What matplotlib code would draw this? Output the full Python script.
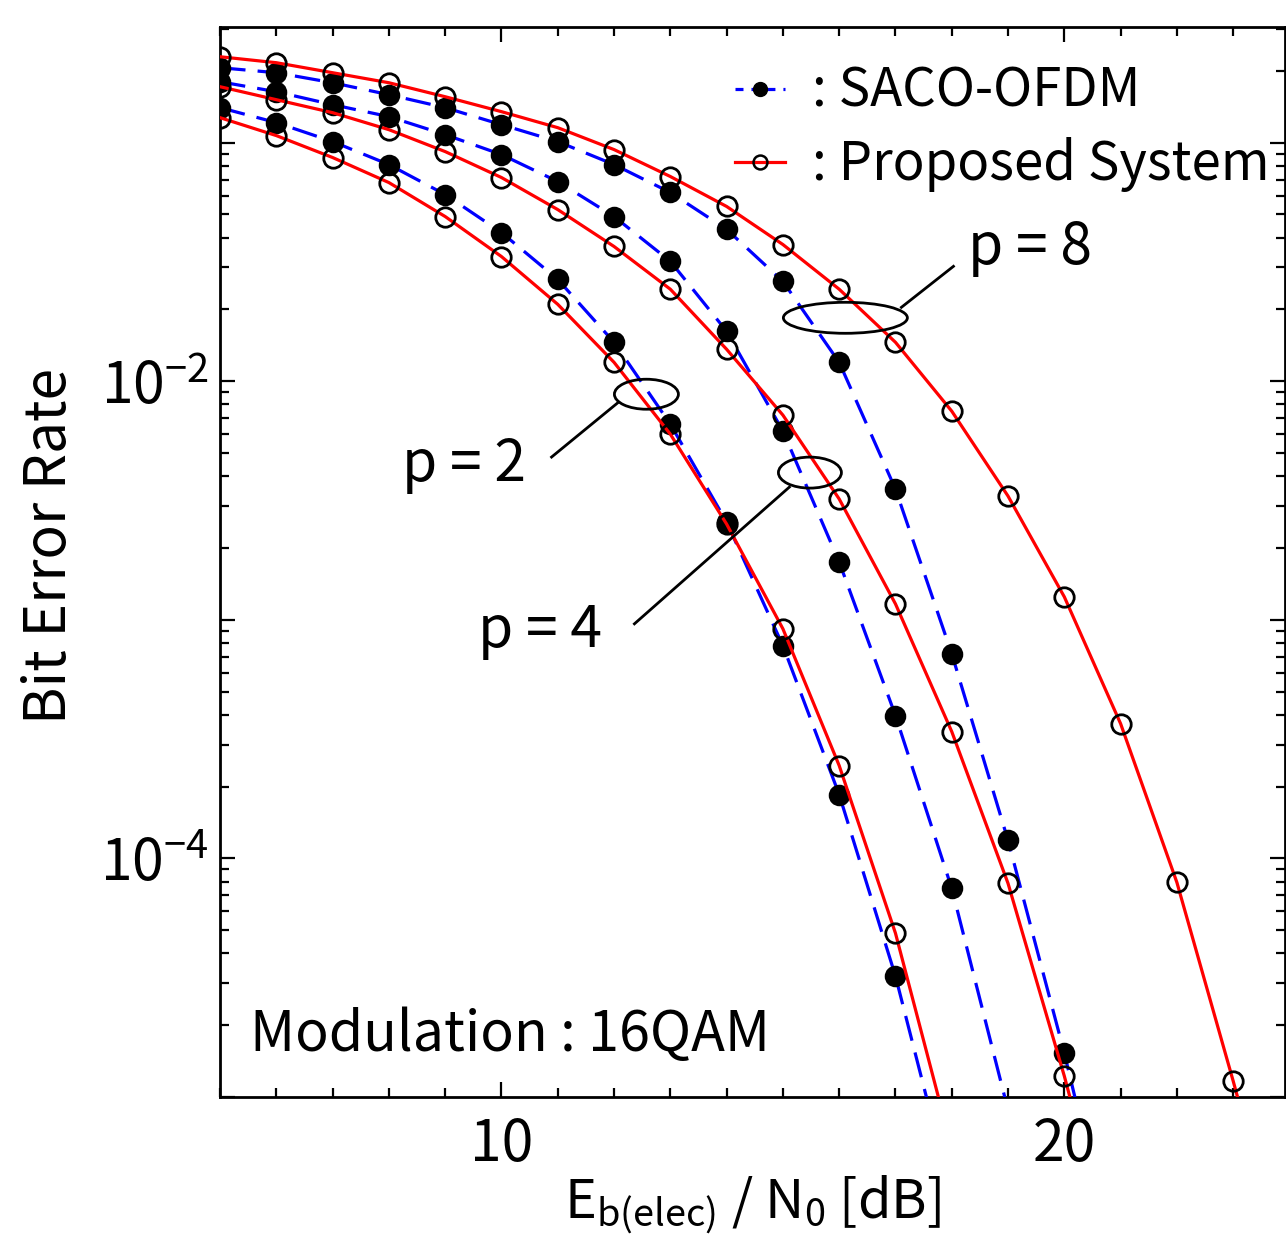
import numpy as np
import matplotlib
matplotlib.use("Agg")
import matplotlib.pyplot as plt
from matplotlib.patches import Ellipse
from matplotlib.lines import Line2D
from matplotlib.transforms import ScaledTranslation
from matplotlib.ticker import FixedLocator, FixedFormatter, NullFormatter, LogLocator, MultipleLocator

FONT = "Noto Sans CJK JP"
plt.rcParams['font.family'] = [FONT, 'DejaVu Sans']
plt.rcParams['mathtext.fontset'] = 'custom'
plt.rcParams['mathtext.rm'] = FONT
plt.rcParams['mathtext.it'] = FONT
plt.rcParams['mathtext.default'] = 'regular'

# ---- data ----
snr_p2_saco = [5, 6, 7, 8, 9, 10, 11, 12, 13, 14, 15, 16, 17, 18]
ber_p2_saco = [0.1401, 0.1213, 0.1010, 0.0809, 0.0606, 0.0420, 0.0267, 0.01456,
               0.00661, 0.00257, 7.79e-4, 1.852e-4, 3.21e-5, 3.85e-6]
snr_p2_prop = [5, 6, 7, 8, 9, 10, 11, 12, 13, 14, 15, 16, 17, 18]
ber_p2_prop = [0.1272, 0.1070, 0.0866, 0.0680, 0.0490, 0.0333, 0.0210, 0.0120,
               0.00600, 0.00252, 9.17e-4, 2.45e-4, 4.86e-5, 6.12e-6]

snr_p4_saco = [5, 6, 7, 8, 9, 10, 11, 12, 13, 14, 15, 16, 17, 18, 19]
ber_p4_saco = [0.1799, 0.1634, 0.1442, 0.1285, 0.1080, 0.0891, 0.0687, 0.0490,
               0.0318, 0.0162, 0.00618, 0.001748, 3.97e-4, 7.49e-5, 8.82e-6]
snr_p4_prop = [5, 6, 7, 8, 9, 10, 11, 12, 13, 14, 15, 16, 17, 18, 19, 20, 21]
ber_p4_prop = [0.1715, 0.1513, 0.1335, 0.1133, 0.0917, 0.0714, 0.0524, 0.0367,
               0.0243, 0.01361, 0.00721, 0.00321, 0.001166, 3.40e-4, 7.86e-5,
               1.224e-5, 1.59e-6]

snr_p8_saco = [5, 6, 7, 8, 9, 10, 11, 12, 13, 14, 15, 16, 17, 18, 19, 20, 21]
ber_p8_saco = [0.2060, 0.1963, 0.1782, 0.1588, 0.1401, 0.1189, 0.1010, 0.0809,
               0.0618, 0.0433, 0.0262, 0.0120, 0.00353, 7.21e-4, 1.19e-4,
               1.528e-5, 1.59e-6]
snr_p8_prop = [5, 6, 7, 8, 9, 10, 11, 12, 13, 14, 15, 16, 17, 18, 19, 20, 21, 22, 23, 24]
ber_p8_prop = [0.229, 0.2162, 0.1963, 0.1782, 0.1557, 0.1348, 0.1155, 0.0935,
               0.0721, 0.0540, 0.0374, 0.0243, 0.01456, 0.00749, 0.00330,
               0.001248, 3.67e-4, 7.93e-5, 1.167e-5, 1.59e-6]

legend_labels = [": SACO-OFDM", ": Proposed System"]
x_ticks = [10, 20]
y_ticks = [1e-1, 1e-2, 1e-3, 1e-4, 1e-5]
y_ticklabels = ['', r'$10^{-2}$', '', r'$10^{-4}$', '']

# ---- figure ----
fig = plt.figure(figsize=(12.86, 12.35), dpi=100)
ax = fig.add_axes([0.1711, 0.1117, 0.8281, 0.8664])
ax.set_yscale('log')
ax.set_xlim(5, 23.92)
ax.set_ylim(1e-5, 0.305)

LW = 2.3
MS = 14
saco_kw = dict(color='blue', lw=LW, ls=(0, (8, 3.8)), marker='o', ms=MS,
               mfc='black', mec='black', mew=1.5, zorder=3)
prop_kw = dict(color='red', lw=LW, ls='-', marker='o', ms=MS,
               mfc='none', mec='black', mew=2.0, zorder=4)

for sx, sy in [(snr_p2_saco, ber_p2_saco), (snr_p4_saco, ber_p4_saco), (snr_p8_saco, ber_p8_saco)]:
    ax.plot(sx, sy, **saco_kw)
for sx, sy in [(snr_p2_prop, ber_p2_prop), (snr_p4_prop, ber_p4_prop), (snr_p8_prop, ber_p8_prop)]:
    ax.plot(sx, sy, **prop_kw)

# ticks
ax.xaxis.set_major_locator(FixedLocator(x_ticks))
ax.xaxis.set_minor_locator(MultipleLocator(1))
ax.yaxis.set_major_locator(FixedLocator(y_ticks))
ax.yaxis.set_major_formatter(FixedFormatter(y_ticklabels))
ax.yaxis.set_minor_locator(LogLocator(base=10, subs=np.arange(2, 10)))
ax.yaxis.set_minor_formatter(NullFormatter())
ax.tick_params(which='both', direction='in', top=True, right=True, width=1.6, labelsize=41)
ax.tick_params(which='major', length=11)
ax.tick_params(which='minor', length=6.5)
ax.tick_params(axis='x', which='major', pad=13)
ax.tick_params(axis='y', which='major', pad=8)
for sp in ax.spines.values():
    sp.set_linewidth(2.0)

ax.set_xlabel(r'$E_{b(elec)}$ / $N_0$ [dB]', fontsize=39, labelpad=0)
ax.set_ylabel('Bit Error Rate', fontsize=41, labelpad=14)
ax.yaxis.set_label_coords(-0.132, 0.515)

# legend
h1 = Line2D([], [], color='blue', lw=LW, ls=(0, (2.5, 2.5)), marker='o', ms=10,
            mfc='black', mec='black')
h2 = Line2D([], [], color='red', lw=LW, ls='-', marker='o', ms=10,
            mfc='none', mec='black', mew=1.8)
leg = ax.legend([h1, h2], legend_labels, loc='upper right', bbox_to_anchor=(1.02, 1.0),
                frameon=False, fontsize=38, handlelength=0.95, handletextpad=0.5,
                labelspacing=0.35, borderaxespad=0.3)

# annotations (ellipses + leader lines + labels)
def ell(x, y, w_px, h_px):
    tr = fig.dpi_scale_trans + ScaledTranslation(x, y, ax.transData)
    e = Ellipse((0, 0), w_px / 100, h_px / 100, transform=tr, fill=False,
                ec='black', lw=2.0, zorder=6)
    ax.add_artist(e)

ell(12.575, 8.82e-3, 64, 30)
ell(15.48, 4.14e-3, 63, 31)
ell(16.11, 1.844e-2, 124, 31)

ax.plot([10.89, 12.08], [4.81e-3, 8.17e-3], color='black', lw=2.0, zorder=6)
ax.plot([12.362, 15.115], [9.62e-4, 3.60e-3], color='black', lw=2.0, zorder=6)
ax.plot([17.105, 18.03], [2.04e-2, 3.03e-2], color='black', lw=2.0, zorder=6)

ax.text(8.224, 3.815e-3, 'p = 2', fontsize=41, ha='left', va='baseline')
ax.text(9.591, 7.71e-4, 'p = 4', fontsize=41, ha='left', va='baseline')
ax.text(18.295, 3.087e-2, 'p = 8', fontsize=41, ha='left', va='baseline')
ax.text(5.524, 1.558e-5, 'Modulation : 16QAM', fontsize=40, ha='left', va='baseline')

fig.savefig('out.png', dpi=100)
